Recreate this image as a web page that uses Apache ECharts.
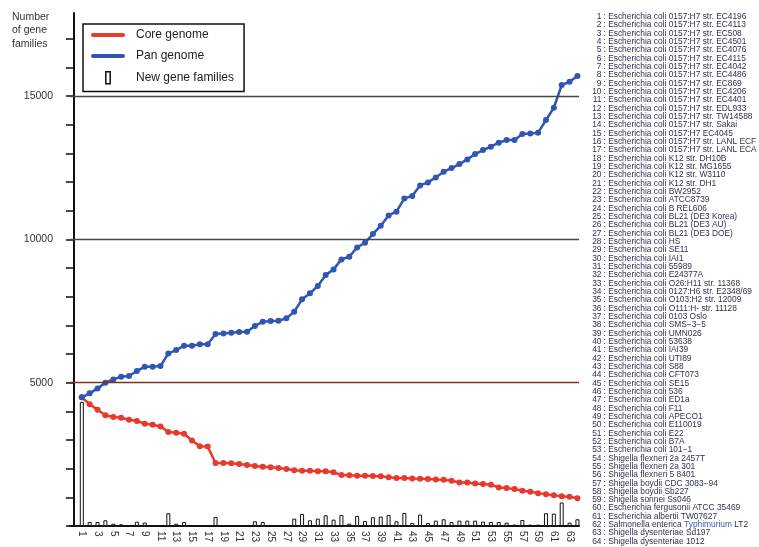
<!DOCTYPE html>
<html>
<head>
<meta charset="utf-8">
<script src="https://cdn.jsdelivr.net/npm/echarts@6/dist/echarts.min.js"></script>
<style>
html,body{margin:0;padding:0;background:#fff;}
#chart{width:759px;height:547px;}
</style>
</head>
<body>
<div id="chart"></div>
<script>
// ---- data ----
const genomeIds = [1,2,3,4,5,6,7,8,9,10,11,12,13,14,15,16,17,18,19,20,21,22,23,24,25,26,27,28,29,30,31,32,
  33,34,35,36,37,38,39,40,41,42,43,44,45,46,47,48,49,50,51,52,53,54,55,56,57,58,59,60,61,62,63,64];

const panGenome = [4490,4628,4802,5000,5116,5209,5233,5407,5558,5558,
  5581,6023,6140,6291,6291,6340,6345,6698,6721,6744,
  6768,6779,6977,7128,7152,7163,7245,7477,7908,8117,
  8373,8756,8954,9303,9396,9722,9885,10187,10478,10838,
  10966,11431,11513,11885,11990,12164,12362,12490,12629,12792,
  12978,13118,13234,13374,13467,13467,13676,13699,13723,14164,
  14595,15386,15502,15700];

const coreGenome = [4490,4247,4060,3861,3803,3779,3709,3662,3569,3533,
  3475,3276,3253,3218,2984,2785,2773,2200,2200,2188,
  2165,2129,2094,2071,2048,2024,1989,1942,1931,1931,
  1907,1907,1872,1778,1767,1755,1755,1743,1732,1697,
  1673,1673,1661,1650,1638,1626,1615,1580,1521,1521,
  1486,1463,1439,1346,1322,1287,1229,1193,1147,1112,
  1076,1041,1018,971];

const newGeneFamilies = [4330,140,140,200,80,60,0,150,120,0,
  0,445,80,140,0,35,0,316,25,15,
  25,5,165,140,5,15,35,257,420,200,
  257,374,222,386,82,351,175,304,328,386,
  164,456,105,398,105,187,234,140,187,187,
  187,152,140,140,117,47,210,47,47,445,
  433,819,117,234];

const strainNames = [
  'Escherichia coli 0157:H7 str. EC4196',
  'Escherichia coli 0157:H7 str. EC4113',
  'Escherichia coli 0157:H7 str. EC508',
  'Escherichia coli 0157:H7 str. EC4501',
  'Escherichia coli 0157:H7 str. EC4076',
  'Escherichia coli 0157:H7 str. EC4115',
  'Escherichia coli 0157:H7 str. EC4042',
  'Escherichia coli 0157:H7 str. EC4486',
  'Escherichia coli 0157:H7 str. EC869',
  'Escherichia coli 0157:H7 str. EC4206',
  'Escherichia coli 0157:H7 str. EC4401',
  'Escherichia coli 0157:H7 str. EDL933',
  'Escherichia coli 0157:H7 str. TW14588',
  'Escherichia coli 0157:H7 str. Sakai',
  'Escherichia coli 0157:H7 EC4045',
  'Escherichia coli 0157:H7 str. LANL ECF',
  'Escherichia coli 0157:H7 str. LANL ECA',
  'Escherichia coli K12 str. DH10B',
  'Escherichia coli K12 str. MG1655',
  'Escherichia coli K12 str. W3110',
  'Escherichia coli K12 str. DH1',
  'Escherichia coli BW2952',
  'Escherichia coli ATCC8739',
  'Escherichia coli B REL606',
  'Escherichia coli BL21 (DE3 Korea)',
  'Escherichia coli BL21 (DE3 AU)',
  'Escherichia coli BL21 (DE3 DOE)',
  'Escherichia coli HS',
  'Escherichia coli SE11',
  'Escherichia coli IAI1',
  'Escherichia coli 55989',
  'Escherichia coli E24377A',
  'Escherichia coli O26:H11 str. 11368',
  'Escherichia coli 0127:H6 str. E2348/69',
  'Escherichia coli O103:H2 str. 12009',
  'Escherichia coli O111:H- str. 11128',
  'Escherichia coli 0103 Oslo',
  'Escherichia coli SMS\u22123\u22125',
  'Escherichia coli UMN026',
  'Escherichia coli 53638',
  'Escherichia coli IAI39',
  'Escherichia coli UTI89',
  'Escherichia coli S88',
  'Escherichia coli CFT073',
  'Escherichia coli SE15',
  'Escherichia coli 536',
  'Escherichia coli ED1a',
  'Escherichia coli F11',
  'Escherichia coli APECO1',
  'Escherichia coli E110019',
  'Escherichia coli E22',
  'Escherichia coli B7A',
  'Escherichia coli 101\u22121',
  'Shigella flexneri 2a 2457T',
  'Shigella flexneri 2a 301',
  'Shigella flexneri 5 8401',
  'Shigella boydii CDC 3083\u221294',
  'Shigella boydii Sb227',
  'Shigella sonnei Ss046',
  'Escherichia fergusonii ATCC 35469',
  'Escherichia albertii TW07627',
  'Salmonella enterica Typhimurium LT2',
  'Shigella dysenteriae Sd197',
  'Shigella dysenteriae 1012'
];

const xLabelValues = [1,3,5,7,9,11,13,15,17,19,21,23,25,27,29,31,33,35,37,39,41,43,45,47,49,51,53,55,57,59,61,63];
const yTickValues = [0,1000,2000,3000,4000,5000,6000,7000,8000,9000,10000,11000,12000,13000,14000,15000,16000,17000];
const yLabelValues = [5000,10000,15000];
const refLineValues = [5000,10000,15000];
const seriesNames = ['Core genome','Pan genome','New gene families'];

// ---- build ----
const FONT = 'Liberation Sans, Arial, Helvetica, sans-serif';
const RED = '#e8392c';
const BLUE = '#2f56b4';
const TEXTC = '#2d3350';

const pair = arr => arr.map((v, i) => [genomeIds[i], v]);

const graphics = [{
  type: 'text', left: 12, top: 10,
  style: { text: 'Number\nof gene\nfamilies', font: '10.5px ' + FONT, fill: '#333', lineHeight: 13.5 }
}];
strainNames.forEach((name, i) => {
  const y = 16.7 + i * 8.33;
  graphics.push({
    type: 'text', x: 601.5, y: y, silent: true,
    style: { text: String(genomeIds[i]), font: '8.4px ' + FONT, fill: TEXTC, align: 'right', verticalAlign: 'middle' }
  });
  let txt, rich;
  if (name.indexOf('Typhimurium') >= 0) {
    const parts = name.split('Typhimurium');
    txt = '{a|: ' + parts[0] + '}{b|Typhimurium}{a|' + parts[1] + '}';
    rich = { a: { font: '8.4px ' + FONT, fill: TEXTC }, b: { font: '8.4px ' + FONT, fill: '#3a5cb8' } };
  } else {
    txt = ': ' + name;
  }
  graphics.push({
    type: 'text', x: 603.5, y: y, silent: true,
    style: Object.assign({ text: txt, font: '8.4px ' + FONT, fill: TEXTC, align: 'left', verticalAlign: 'middle' }, rich ? { rich: rich } : {})
  });
});

const chart = echarts.init(document.getElementById('chart'), null, { renderer: 'canvas' });
chart.setOption({
  animation: false,
  backgroundColor: '#fff',
  grid: { left: 70, right: 180, top: 13, bottom: 21, containLabel: false },
  legend: {
    left: 83, top: 24, orient: 'vertical',
    itemWidth: 34, itemHeight: 12, itemGap: 9,
    padding: [5, 10, 7, 8],
    borderColor: '#111', borderWidth: 1.5, backgroundColor: '#fff',
    selectedMode: false,
    textStyle: { fontSize: 12, color: '#222', fontFamily: FONT, padding: [0, 0, 0, 6] },
    data: [
      { name: seriesNames[0], icon: 'path://M2,0h30a2,2 0 0 1 0,4h-30a2,2 0 0 1 0,-4z', itemStyle: { color: RED } },
      { name: seriesNames[1], icon: 'path://M2,0h30a2,2 0 0 1 0,4h-30a2,2 0 0 1 0,-4z', itemStyle: { color: BLUE } },
      { name: seriesNames[2], icon: 'path://M0,0h4v11h-4z', itemStyle: { color: '#fff', borderColor: '#111', borderWidth: 1.5 } }
    ]
  },
  xAxis: {
    type: 'value', min: -0.5, max: 64.2,
    splitLine: { show: false },
    axisLine: { show: true, onZero: false, lineStyle: { color: '#111', width: 2 } },
    axisTick: { show: false },
    axisLabel: {
      customValues: xLabelValues, rotate: -90, margin: 5,
      fontSize: 10, color: '#333', fontFamily: FONT,
      formatter: v => String(v)
    }
  },
  yAxis: {
    type: 'value', min: 0, max: 17900,
    splitLine: { show: false },
    axisLine: { show: true, lineStyle: { color: '#111', width: 2 } },
    axisTick: { show: true, customValues: yTickValues, length: 8, lineStyle: { color: '#111', width: 1.5 } },
    axisLabel: { customValues: yLabelValues, margin: 17, fontSize: 10.5, color: '#333', fontFamily: FONT,
      formatter: v => String(v) }
  },
  graphic: graphics,
  series: [
    {
      name: seriesNames[2], type: 'bar', data: pair(newGeneFamilies), barWidth: 4, z: 1,
      itemStyle: { color: '#fff', borderColor: '#111', borderWidth: 1 },
      markLine: {
        silent: true, symbol: 'none', label: { show: false },
        data: refLineValues.map((v, i) => ({
          yAxis: v,
          lineStyle: { color: i === 0 ? '#7a3226' : '#3f4b4a', width: 1.3, type: 'solid' }
        }))
      }
    },
    {
      name: seriesNames[0], type: 'line', data: pair(coreGenome), z: 3,
      symbol: 'circle', symbolSize: 6, showAllSymbol: true,
      lineStyle: { color: RED, width: 2.5 }, itemStyle: { color: RED }
    },
    {
      name: seriesNames[1], type: 'line', data: pair(panGenome), z: 4,
      symbol: 'circle', symbolSize: 6, showAllSymbol: true,
      lineStyle: { color: BLUE, width: 2.5 }, itemStyle: { color: BLUE }
    }
  ]
});
</script>
</body>
</html>
